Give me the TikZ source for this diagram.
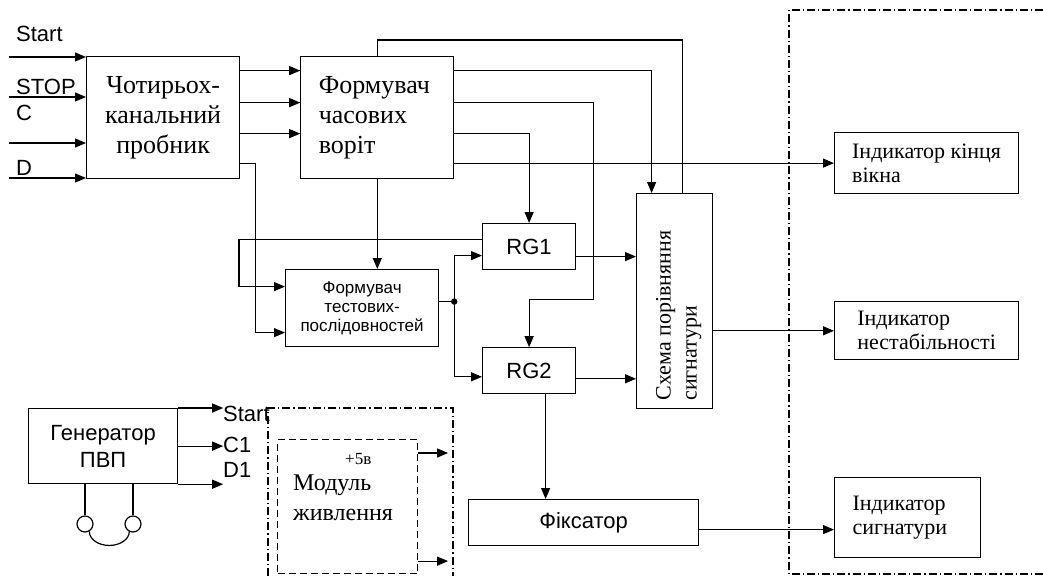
\documentclass[tikz,border=0pt]{standalone}
\usepackage{fontspec}
\setmainfont{Liberation Serif}
\setsansfont{Liberation Sans}
\usepackage{graphicx}
\usetikzlibrary{positioning,arrows.meta}
\newcommand{\sanstxt}{\sffamily\fontsize{22}{27}\selectfont}
\newcommand{\smallsans}{\sffamily\fontsize{17}{19}\selectfont}
\newcommand{\bigserif}{\rmfamily\fontsize{26}{30}\selectfont}
\newcommand{\indserif}{\rmfamily\fontsize{22}{24}\selectfont}

\begin{document}
\begin{tikzpicture}[x=1pt,y=-1pt,
  box/.style={draw,line width=1.2pt,inner sep=0pt,align=center},
  lbl/.style={anchor=west,inner sep=0pt,font=\sanstxt},
  arr/.style={-{Triangle[length=11pt,width=9pt]},line width=1.2pt},
  wire/.style={line width=1.2pt},
  dashdot/.style={line width=1.1pt,dash pattern=on 8pt off 3pt on 1.2pt off 3pt},
  dashbox/.style={draw,line width=1.1pt,dash pattern=on 7pt off 4pt}
]
  \useasboundingbox (0,0) rectangle (1043,576);
  % blocks
  \node[box,font=\bigserif,minimum width=153pt,minimum height=122pt,anchor=north west] (probe) at (86,56) {Чотирьох-\\канальний\\пробник};
  \node[box,font=\bigserif,align=left,text width=117pt,inner xsep=18pt,minimum height=122pt,right=60pt of probe] (gates) {Формувач\\часових\\воріт};
  \node[box,font=\smallsans,minimum width=153pt,minimum height=77pt,anchor=north west] (fts) at (285,269) {Формувач\\тестових-\\послідовностей};
  \node[box,font=\sanstxt,minimum width=93pt,minimum height=46pt,anchor=north west] (rg1) at (482,223) {RG1};
  \node[box,font=\sanstxt,minimum width=93pt,minimum height=46pt,below=77pt of rg1] (rg2) {RG2};
  \node[box,font=\rmfamily\fontsize{22}{26}\selectfont,minimum width=76pt,minimum height=215pt,anchor=north west] (cmp) at (636,193)
    {\hspace*{8pt}\rotatebox{90}{\begin{minipage}{199pt}\raggedright Схема порівняння\\сигнатури\end{minipage}}};
  \node[box,font=\sanstxt,minimum width=230pt,minimum height=46pt,anchor=north west] (fix) at (468,499) {Фіксатор};
  \node[box,font=\indserif,align=left,minimum width=184pt,minimum height=61pt,anchor=north west] (ind1) at (834,132) {Індикатор кінця\\вікна};
  \node[box,font=\indserif,align=left,minimum width=184pt,minimum height=58pt,below=107pt of ind1] (ind2) {Індикатор\\нестабільності};
  \node[box,font=\indserif,align=left,text width=110pt,inner xsep=18pt,minimum height=80pt,anchor=north west] (ind3) at (834,477) {Індикатор\\сигнатури};
  \node[box,font=\sanstxt,minimum width=149pt,minimum height=75pt,anchor=north west] (gen) at (28,408) {Генератор\\ПВП};
  \node[dashbox,minimum width=140pt,minimum height=134pt,anchor=north west] (pwr) at (277,439) {};
  \node[anchor=north west,inner sep=0pt,align=left,font=\rmfamily\fontsize{24}{30}\selectfont] (pwrtxt) at (293,453)
    {\hspace*{52pt}{\fontsize{17}{18}\selectfont +5в}\\[-4pt]Модуль\\живлення};
  \node[circle,draw,line width=1.2pt,minimum size=16pt,inner sep=0pt] (lp1) at (85,524) {};
  \node[circle,draw,line width=1.2pt,minimum size=16pt,inner sep=0pt] (lp2) at (133,524) {};

  % input labels
  \node[lbl] (lStart) at (16,34) {Start};
  \node[lbl] (lStop) at (16,87) {STOP};
  \node[lbl] (lC) at (16,113) {C};
  \node[lbl] (lD) at (16,168) {D};
  \node[lbl] (gStart) at (223,414) {Start};
  \node[lbl] (gC) at (223,445) {C1};
  \node[lbl] (gD) at (223,470) {D1};

  % inputs
  \foreach \yy/\nm in {57/inS,97/inP,143/inC,178/inD}
    \coordinate (\nm) at (9,\yy);
  \foreach \nm in {inS,inP,inC,inD}
    \draw[arr] (\nm) -- (\nm -| probe.west);
  \foreach \sh in {47,15,-16}
    \draw[arr] ([yshift=\sh pt]probe.east) -- ([yshift=\sh pt]gates.west);
  \draw[arr] ([yshift=-46pt]probe.east) -- ++(15,0) |- ([yshift=-24.5pt]fts.west);
  \draw[arr] ([yshift=7pt]rg1.west) -- ++(-243,0) |- ([yshift=21.5pt]fts.west);
  \draw[arr] (gates.south) -- (gates.south |- fts.north);

  % time gates outputs
  \draw[wire] (gates.north) -- ++(0,-16) -| ([xshift=8pt]cmp.north);
  \draw[arr] ([yshift=47pt]gates.east) -| ([xshift=-23pt]cmp.north);
  \draw[arr] ([yshift=15pt]gates.east) -- ++(139,0) -- ++(0,197) -| (rg2.north);
  \draw[arr] ([yshift=-16pt]gates.east) -| (rg1.north);
  \draw[arr] (ind1.west -| gates.east) -- (ind1.west);

  % test sequences to registers
  \draw[wire] ([yshift=6.5pt]fts.east) -- ++(15,0) coordinate (split);
  \fill (split) circle (3.2pt);
  \draw[arr] (split) |- ([yshift=-9pt]rg1.west);
  \draw[arr] (split) |- ([yshift=-6pt]rg2.west);
  \draw[arr] ([yshift=-10pt]rg1.east) -- ([yshift=-10pt]rg1.east -| cmp.west);
  \draw[arr] ([yshift=-8pt]rg2.east) -- ([yshift=-8pt]rg2.east -| cmp.west);
  \draw[arr] (ind2.west -| cmp.east) -- (ind2.west);
  \draw[arr] ([xshift=16.5pt]rg2.south) -- ([xshift=16.5pt]rg2.south |- fix.north);
  \draw[arr] ([yshift=-7pt]fix.east) -- ([yshift=-7pt]fix.east -| ind3.west);

  % generator
  \draw[arr] (gen.north east) -- ++(45,0) coordinate (o1);
  \draw[arr] (gen.east) -- ++(45,0) coordinate (o2);
  \draw[arr] (gen.south east) -- ++(45,0) coordinate (o3);
  \draw[wire] (lp1.north |- gen.south) -- (lp1.north);
  \draw[wire] (lp2.north |- gen.south) -- (lp2.north);
  \draw[wire] (lp1.-60) arc[start angle=180,end angle=0,x radius=20,y radius=14];

  % power module
  \draw[arr] ([yshift=-14pt]pwr.north east) -- ++(30,0) coordinate (p1);
  \draw[arr] ([yshift=13pt]pwr.south east) -- ++(30,0) coordinate (p2);

  % regions
  \draw[dashdot] (1043,10) -- (789,10) -- (789,574) -- (1043,574);
  \draw[dashdot] (268,576) -- (268,408) -- (453,408) -- (453,576);
\end{tikzpicture}
\end{document}
